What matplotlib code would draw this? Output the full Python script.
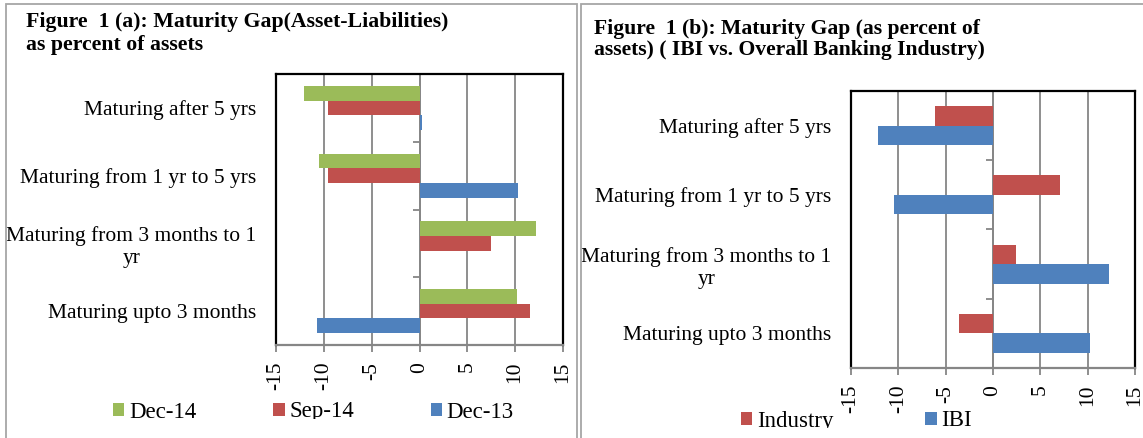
import matplotlib.pyplot as plt
import numpy as np
from matplotlib.patches import Rectangle
from matplotlib.transforms import Bbox, TransformedBbox

# maturity buckets, bottom to top
categories = [
    "Maturing upto 3 months",
    "Maturing from 3 months to 1\nyr",
    "Maturing from 1 yr to 5 yrs",
    "Maturing after 5 yrs",
]

# Figure 1 (a): gap as percent of assets
dec13 = [-10.7, 0.0, 10.3, 0.3]
sep14 = [11.6, 7.5, -9.6, -9.6]
dec14 = [10.2, 12.2, -10.5, -12.1]

# Figure 1 (b): IBI vs. industry
ibi = [10.2, 12.3, -10.5, -12.2]
industry = [-3.6, 2.4, 7.1, -6.1]

xticks = [-15, -10, -5, 0, 5, 10, 15]

GREEN = "#9BBB59"
RED = "#C0504D"
BLUE = "#4F81BD"
GRID = "#868686"

plt.rcParams["font.family"] = ["Liberation Serif", "DejaVu Serif"]

W, H = 1143, 438
fig = plt.figure(figsize=(W / 100, H / 100), dpi=100)


def px(x0, y0, x1, y1):
    return [x0 / W, 1 - y1 / H, (x1 - x0) / W, (y1 - y0) / H]


def style_axes(ax):
    y = np.arange(len(categories))
    ax.set_xlim(-15, 15)
    ax.set_ylim(-0.5, len(categories) - 0.5)
    ax.set_xticks(xticks)
    ax.set_xticklabels([str(v) for v in xticks], rotation=90, fontsize=15.5)
    ax.tick_params(axis="x", direction="out", length=5, width=1.3,
                   color=GRID, pad=7)
    ax.set_yticks(y)
    ax.set_yticklabels(categories, fontsize=15.5)
    for lbl in ax.get_yticklabels():
        lbl.set_multialignment("center")
    ax.tick_params(axis="y", length=0, pad=14)
    ax.grid(axis="x", color=GRID, linewidth=1.3)
    ax.set_axisbelow(True)
    for name, sp in ax.spines.items():
        sp.set_color("black")
        sp.set_linewidth(1.6)
    ax.spines["bottom"].set_color(GRID)

    # category axis crossing at zero, with ticks between buckets
    sec = ax.secondary_yaxis(0.5)
    sec.set_yticks(np.arange(len(categories) + 1) - 0.5)
    sec.set_yticklabels([])
    sec.tick_params(axis="y", direction="in", length=5, width=1.3, color=GRID)
    for sp in sec.spines.values():
        sp.set_color(GRID)
        sp.set_linewidth(1.3)


def clipped_legend(handles, labels, x_left, y_center, spacing, clip_y):
    leg = fig.legend(handles, labels, ncol=len(labels), frameon=False,
                     loc="center left", bbox_to_anchor=(x_left / W, 1 - y_center / H),
                     fontsize=16.5, handlelength=0.5, handleheight=0.5,
                     handletextpad=0.2, columnspacing=spacing, borderpad=0,
                     borderaxespad=0)
    clip = TransformedBbox(Bbox([[0, 1 - clip_y / H], [1, 1]]), fig.transFigure)
    for t in leg.get_texts():
        t.set_clip_box(clip)
        t.set_clip_on(True)
    return leg


# panel frames
for x0, x1 in [(6, 577), (581, 1150)]:
    fig.add_artist(Rectangle((x0 / W, -0.1), (x1 - x0) / W, 1.1 - 4 / H,
                             transform=fig.transFigure, fill=False,
                             edgecolor="#A6A6A6", linewidth=1.3))

# ---- left chart ----
ax1 = fig.add_axes(px(276, 74, 563, 345))
y = np.arange(len(categories))
h = 0.217
b13 = ax1.barh(y - h, dec13, height=h, color=BLUE)
b_sep = ax1.barh(y, sep14, height=h, color=RED)
b14 = ax1.barh(y + h, dec14, height=h, color=GREEN)
style_axes(ax1)

fig.text(26 / W, 1 - 27 / H, "Figure  1 (a): Maturity Gap(Asset-Liabilities)",
         fontsize=15.7, fontweight="bold", va="baseline")
fig.text(26 / W, 1 - 50 / H, "as percent of assets",
         fontsize=15.7, fontweight="bold", va="baseline")

clipped_legend([b14, b_sep, b13], ["Dec-14", "Sep-14", "Dec-13"],
               113, 412, 3.35, 419)

# ---- right chart ----
ax2 = fig.add_axes(px(851, 91, 1135, 368))
h2 = 0.28
b_ibi = ax2.barh(y - h2 / 2, ibi, height=h2, color=BLUE)
b_ind = ax2.barh(y + h2 / 2, industry, height=h2, color=RED)
style_axes(ax2)

fig.text(594 / W, 1 - 34 / H, "Figure  1 (b): Maturity Gap (as percent of",
         fontsize=15.6, fontweight="bold", va="baseline")
fig.text(594 / W, 1 - 55 / H, "assets) ( IBI vs. Overall Banking Industry)",
         fontsize=15.6, fontweight="bold", va="baseline")

clipped_legend([b_ind, b_ibi], ["Industry", "IBI"], 741, 421, 4.0, 428)

fig.savefig("out.png", dpi=100)
